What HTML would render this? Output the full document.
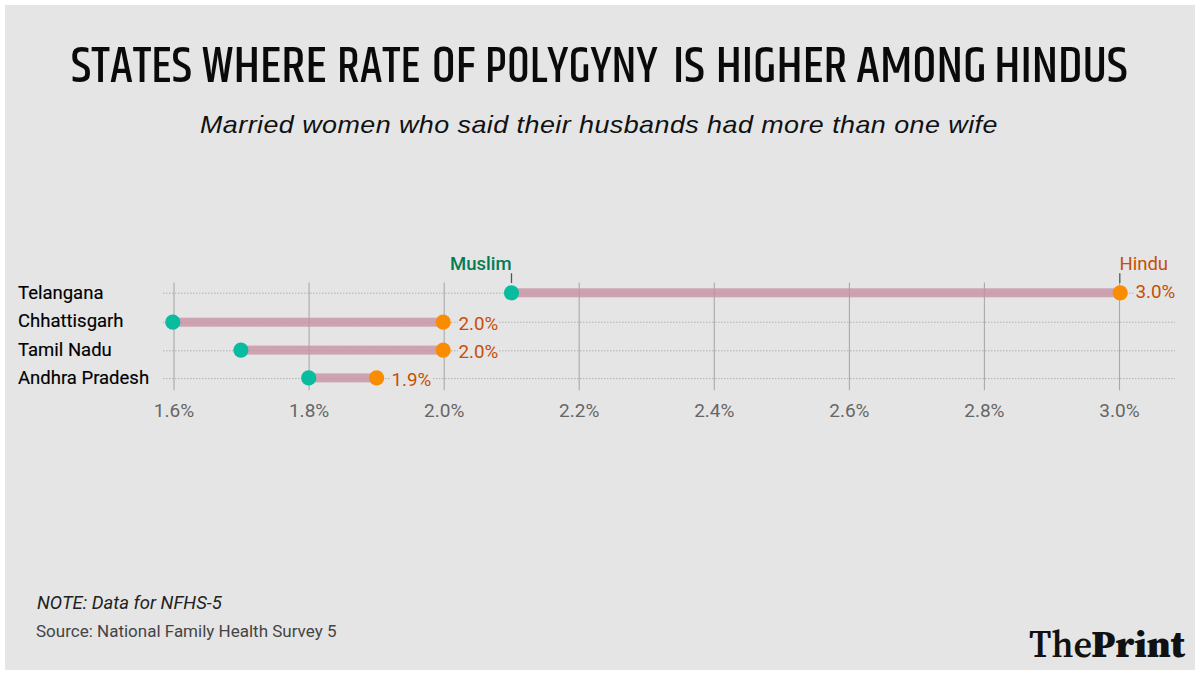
<!DOCTYPE html>
<html><head><meta charset="utf-8">
<style>
html,body{margin:0;padding:0;background:#fff;}
body{width:1200px;height:675px;position:relative;overflow:hidden;}
#bg{position:absolute;left:5px;top:5px;width:1190px;height:665px;background:#e5e5e5;}
.t{position:absolute;white-space:nowrap;line-height:1;}
#sub{left:200px;top:113px;font-family:"Liberation Sans",Arial,sans-serif;font-style:italic;font-size:24px;letter-spacing:0.4px;transform:scaleX(1.12);transform-origin:0 0;color:#111;}
.lab{left:18px;font-family:Roboto,"Liberation Sans",sans-serif;font-weight:400;font-size:18.5px;color:#000;-webkit-text-stroke:0.15px #000;}
.ax{font-family:Roboto,"Liberation Sans",sans-serif;font-size:19px;color:#666;transform:translateX(-50%);}
.val{font-family:Roboto,"Liberation Sans",sans-serif;font-size:18.8px;color:#c64f06;background:#e5e5e5;padding:0 1px;margin-left:-1px;}
#note{left:37px;top:594px;font-family:Roboto,"Liberation Sans",sans-serif;font-style:italic;font-size:18.5px;color:#222;}
#src{left:36px;top:623px;font-family:Roboto,"Liberation Sans",sans-serif;font-size:17px;color:#444;}
svg{position:absolute;left:0;top:0;}
</style></head><body>
<div id="bg"></div>
<svg id="title" width="1200" height="100" viewBox="0 0 1200 100" aria-label="STATES WHERE RATE OF POLYGYNY IS HIGHER AMONG HINDUS">
  <g font-family="Khand, 'Barlow Condensed', 'Liberation Sans', sans-serif" font-weight="500" font-size="51.4" fill="#0a0a0a" lengthAdjust="spacingAndGlyphs">
    <text x="71.0" y="82" textLength="121.0" lengthAdjust="spacingAndGlyphs">STATES</text>
    <text x="201.7" y="82" textLength="125.1" lengthAdjust="spacingAndGlyphs">WHERE</text>
    <text x="337.1" y="82" textLength="83.3" lengthAdjust="spacingAndGlyphs">RATE</text>
    <text x="431.7" y="82" textLength="43.5" lengthAdjust="spacingAndGlyphs">OF</text>
    <text x="485.1" y="82" textLength="172.4" lengthAdjust="spacingAndGlyphs">POLYGYNY</text>
    <text x="673.0" y="82" textLength="31.9" lengthAdjust="spacingAndGlyphs">IS</text>
    <text x="715.7" y="82" textLength="131.8" lengthAdjust="spacingAndGlyphs">HIGHER</text>
    <text x="856.3" y="82" textLength="130.4" lengthAdjust="spacingAndGlyphs">AMONG</text>
    <text x="994.3" y="82" textLength="133.5" lengthAdjust="spacingAndGlyphs">HINDUS</text>
  </g>
</svg>
<div class="t" id="sub">Married women who said their husbands had more than one wife</div>

<svg width="1200" height="675" viewBox="0 0 1200 675">
  <g stroke="#b0b0b0" stroke-width="1" stroke-dasharray="1.5 1.5">
    <line x1="163" x2="1175" y1="293.2" y2="293.2"/>
    <line x1="163" x2="1175" y1="322.2" y2="322.2"/>
    <line x1="163" x2="1175" y1="350.8" y2="350.8"/>
    <line x1="163" x2="1175" y1="378.6" y2="378.6"/>
  </g>
  <g stroke="#a9a9a9" stroke-width="1.1">
    <line x1="174" x2="174" y1="282.6" y2="390.3"/>
    <line x1="309.1" x2="309.1" y1="282.6" y2="390.3"/>
    <line x1="444.2" x2="444.2" y1="282.6" y2="390.3"/>
    <line x1="579.2" x2="579.2" y1="282.6" y2="390.3"/>
    <line x1="714.3" x2="714.3" y1="282.6" y2="390.3"/>
    <line x1="849.4" x2="849.4" y1="282.6" y2="390.3"/>
    <line x1="984.4" x2="984.4" y1="282.6" y2="390.3"/>
    <line x1="1119.5" x2="1119.5" y1="282.6" y2="390.3"/>
  </g>
  <g fill="#c68fa3" fill-opacity="0.78">
    <rect x="511.7" y="288.3" width="607.8" height="9"/>
    <rect x="174" y="317.7" width="270.2" height="9"/>
    <rect x="241.5" y="345.6" width="202.7" height="9"/>
    <rect x="309.1" y="373.4" width="67.5" height="9"/>
  </g>
  <g stroke="#555" stroke-width="1.3">
    <line x1="511.5" x2="511.5" y1="273.2" y2="283"/>
    <line x1="1119.8" x2="1119.8" y1="273.2" y2="283"/>
  </g>
  <g fill="#09bb9f">
    <circle cx="511.5" cy="292.8" r="7.6"/>
    <circle cx="172.8" cy="322.2" r="7.6"/>
    <circle cx="240.9" cy="350.1" r="7.6"/>
    <circle cx="308.7" cy="377.9" r="7.6"/>
  </g>
  <g fill="#fa8c00">
    <circle cx="1120.2" cy="292.8" r="7.6"/>
    <circle cx="443.2" cy="322.2" r="7.6"/>
    <circle cx="443.2" cy="350.1" r="7.6"/>
    <circle cx="376.6" cy="377.9" r="7.6"/>
  </g>
</svg>

<div class="t lab" style="top:284.4px">Telangana</div>
<div class="t lab" style="top:312px">Chhattisgarh</div>
<div class="t lab" style="top:341px">Tamil Nadu</div>
<div class="t lab" style="top:369px">Andhra Pradesh</div>

<div class="t" style="left:450px;top:255px;font-family:Roboto,'Liberation Sans',sans-serif;font-weight:500;font-size:18.5px;color:#057a56">Muslim</div>
<div class="t" style="left:1119.5px;top:255px;font-family:Roboto,'Liberation Sans',sans-serif;font-size:18.5px;color:#c64f06">Hindu</div>

<div class="t val" style="left:1135.4px;top:283.4px">3.0%</div>
<div class="t val" style="left:458.5px;top:314.5px">2.0%</div>
<div class="t val" style="left:458.5px;top:342.5px">2.0%</div>
<div class="t val" style="left:391.5px;top:370.5px">1.9%</div>

<div class="t ax" style="left:174px;top:401px">1.6%</div>
<div class="t ax" style="left:309.1px;top:401px">1.8%</div>
<div class="t ax" style="left:444.2px;top:401px">2.0%</div>
<div class="t ax" style="left:579.2px;top:401px">2.2%</div>
<div class="t ax" style="left:714.3px;top:401px">2.4%</div>
<div class="t ax" style="left:849.4px;top:401px">2.6%</div>
<div class="t ax" style="left:984.4px;top:401px">2.8%</div>
<div class="t ax" style="left:1119.5px;top:401px">3.0%</div>

<div class="t" id="note">NOTE: Data for NFHS-5</div>
<div class="t" id="src">Source: National Family Health Survey 5</div>
<svg id="logo" width="1200" height="675" viewBox="0 0 1200 675" aria-label="ThePrint">
  <g font-family="'Source Serif 4', 'Liberation Serif', serif" font-size="38.5" fill="#111">
    <text x="1029.0" y="656.7" font-weight="600" textLength="63.1" lengthAdjust="spacingAndGlyphs">The</text>
    <text x="1091.3" y="656.7" font-weight="900" textLength="93.7" lengthAdjust="spacingAndGlyphs">Print</text>
  </g>
</svg>
</body></html>
